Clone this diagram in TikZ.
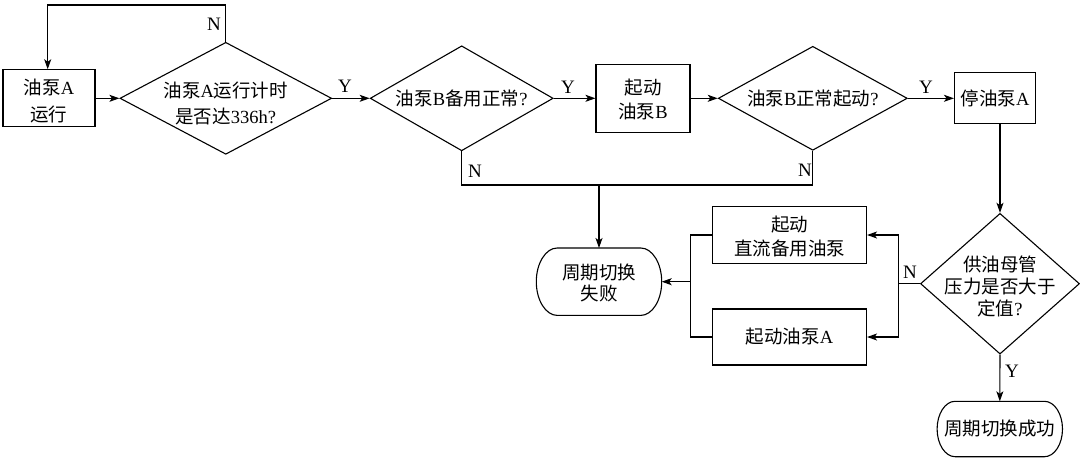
\documentclass[tikz,border=0pt]{standalone}
\usepackage{fontspec}
\setmainfont{Liberation Serif}
\newfontfamily\cjkfont{Noto Sans CJK SC}
\newcommand\zhtxt[1]{{\cjkfont #1}}
\usetikzlibrary{shapes.geometric,arrows.meta}
\tikzset{
  txt/.style={font=\fontsize{18.5}{24}\selectfont, align=center, inner sep=0pt},
  box/.style={txt, draw, line width=1.1pt, rectangle},
  dia/.style={draw, line width=1.1pt, diamond, inner sep=0pt},
  term/.style={txt, rectangle},
  lab/.style={font=\fontsize{19}{22}\selectfont, inner sep=0pt},
  wire/.style={line width=1.1pt},
  conn/.style={line width=1.1pt, -{Stealth[length=10pt,width=7pt,inset=2.5pt]}}
}
% outline with elliptical ends: #1 node, #2 rx, #3 k*rx, #4 k*ry
\newcommand\termoutline[4]{%
  \draw[wire] ([xshift=#2]#1.north west) -- ([xshift=-#2]#1.north east)
    .. controls ([xshift=-#2+#3]#1.north east) and ([yshift=#4]#1.east) .. (#1.east)
    .. controls ([yshift=-#4]#1.east) and ([xshift=-#2+#3]#1.south east) .. ([xshift=-#2]#1.south east)
    -- ([xshift=#2]#1.south west)
    .. controls ([xshift=#2-#3]#1.south west) and ([yshift=-#4]#1.west) .. (#1.west)
    .. controls ([yshift=#4]#1.west) and ([xshift=#2-#3]#1.north west) .. ([xshift=#2]#1.north west)
    -- cycle;}
\begin{document}
\begin{tikzpicture}[x=1pt,y=-1pt]
\useasboundingbox (0,0) rectangle (1080,464);
% nodes
\node[box, minimum width=92pt, minimum height=57pt] (bA) at (49,98.3) {};
\node[txt, font=\fontsize{18.5}{27}\selectfont] (bAt) at ([yshift=-3pt]bA.center) {\zhtxt{油泵}A\\\zhtxt{运行}};
\node[dia, minimum width=211.7pt, minimum height=112pt] (d1) at (225.8,98.3) {};
\node[txt, font=\fontsize{18.5}{26}\selectfont] (d1t) at ([yshift=-5pt]d1.center) {\zhtxt{油泵}A\zhtxt{运行计时}\\\zhtxt{是否达}336h?};
\node[dia, minimum width=183pt, minimum height=105pt] (d2) at (461.7,98.3) {};
\node[txt] (d2t) at (d2.center) {\zhtxt{油泵}B\zhtxt{备用正常}?};
\node[box, minimum width=94pt, minimum height=68pt] (bB) at (643,98.3) {};
\node[txt, font=\fontsize{18.5}{24.5}\selectfont] (bBt) at ([yshift=-1pt]bB.center) {\zhtxt{起动}\\\zhtxt{油泵}B};
\node[dia, minimum width=189pt, minimum height=104pt] (d3) at (812.8,98.3) {};
\node[txt] (d3t) at (d3.center) {\zhtxt{油泵}B\zhtxt{正常起动}?};
\node[box, minimum width=81pt, minimum height=51pt] (bS) at (995,98.3) {\zhtxt{停油泵}A};
\node[dia, minimum width=159pt, minimum height=140.7pt] (d4) at (1000,283.7) {};
\node[txt, font=\fontsize{18.5}{22}\selectfont] (d4t) at ([yshift=-3pt]d4.center) {\zhtxt{供油母管}\\\zhtxt{压力是否大于}\\\zhtxt{定值}?};
\node[box, minimum width=154pt, minimum height=57pt] (bDC) at (789.5,235) {};
\node[txt] (bDCt) at ([yshift=-2pt]bDC.center) {\zhtxt{起动}\\\zhtxt{直流备用油泵}};
\node[box, minimum width=154pt, minimum height=56pt] (bA2) at (789.5,337) {\zhtxt{起动油泵}A};
\node[term, minimum width=125pt, minimum height=67pt] (fail) at (599,281.7) {};
\node[txt, font=\fontsize{18.5}{21}\selectfont] (failt) at ([yshift=-1pt]fail.center) {\zhtxt{周期切换}\\\zhtxt{失败}};
\node[term, minimum width=125pt, minimum height=55pt] (succ) at (999.8,429) {\zhtxt{周期切换成功}};
\termoutline{fail}{21pt}{11.6pt}{18.5pt}
\termoutline{succ}{18pt}{9.9pt}{15.2pt}
% junction coordinates
\coordinate (top) at (47.7,5);
\coordinate (jb) at (599,185);
\coordinate (jr) at (898.3,283.7);
\coordinate (jl) at (690.7,281.7);
% connectors
\draw[conn] (bA.east) -- (d1.west);
\draw[conn] (d1.north) |- (top) -- (top |- bA.north);
\draw[conn] (d1.east) -- (d2.west);
\draw[conn] (d2.east) -- (bB.west);
\draw[conn] (bB.east) -- (d3.west);
\draw[conn] (d3.east) -- (bS.west);
\draw[conn] (d4.north |- bS.south) -- (d4.north);
\draw[wire] (d2.south) |- (jb);
\draw[wire] (d3.south) |- (jb);
\draw[conn] (jb) -- (fail.north);
\draw[wire] (d4.west) -- (jr);
\draw[conn] (jr) |- (bDC.east);
\draw[conn] (jr) |- (bA2.east);
\draw[wire] (bDC.west) -| (jl);
\draw[wire] (bA2.west) -| (jl);
\draw[conn] (jl) -- (fail.east);
\draw[conn] (d4.south) -- (succ.north);
% labels
\node[lab] (n1) at (214,24) {N};
\node[lab] (y1) at (345,86) {Y};
\node[lab] (y2) at (568,87) {Y};
\node[lab] (y3) at (926,87) {Y};
\node[lab] (n2) at (475,171) {N};
\node[lab] (n3) at (805,170) {N};
\node[lab] (n4) at (910,272) {N};
\node[lab] (y4) at (1012,371) {Y};
\end{tikzpicture}
\end{document}
